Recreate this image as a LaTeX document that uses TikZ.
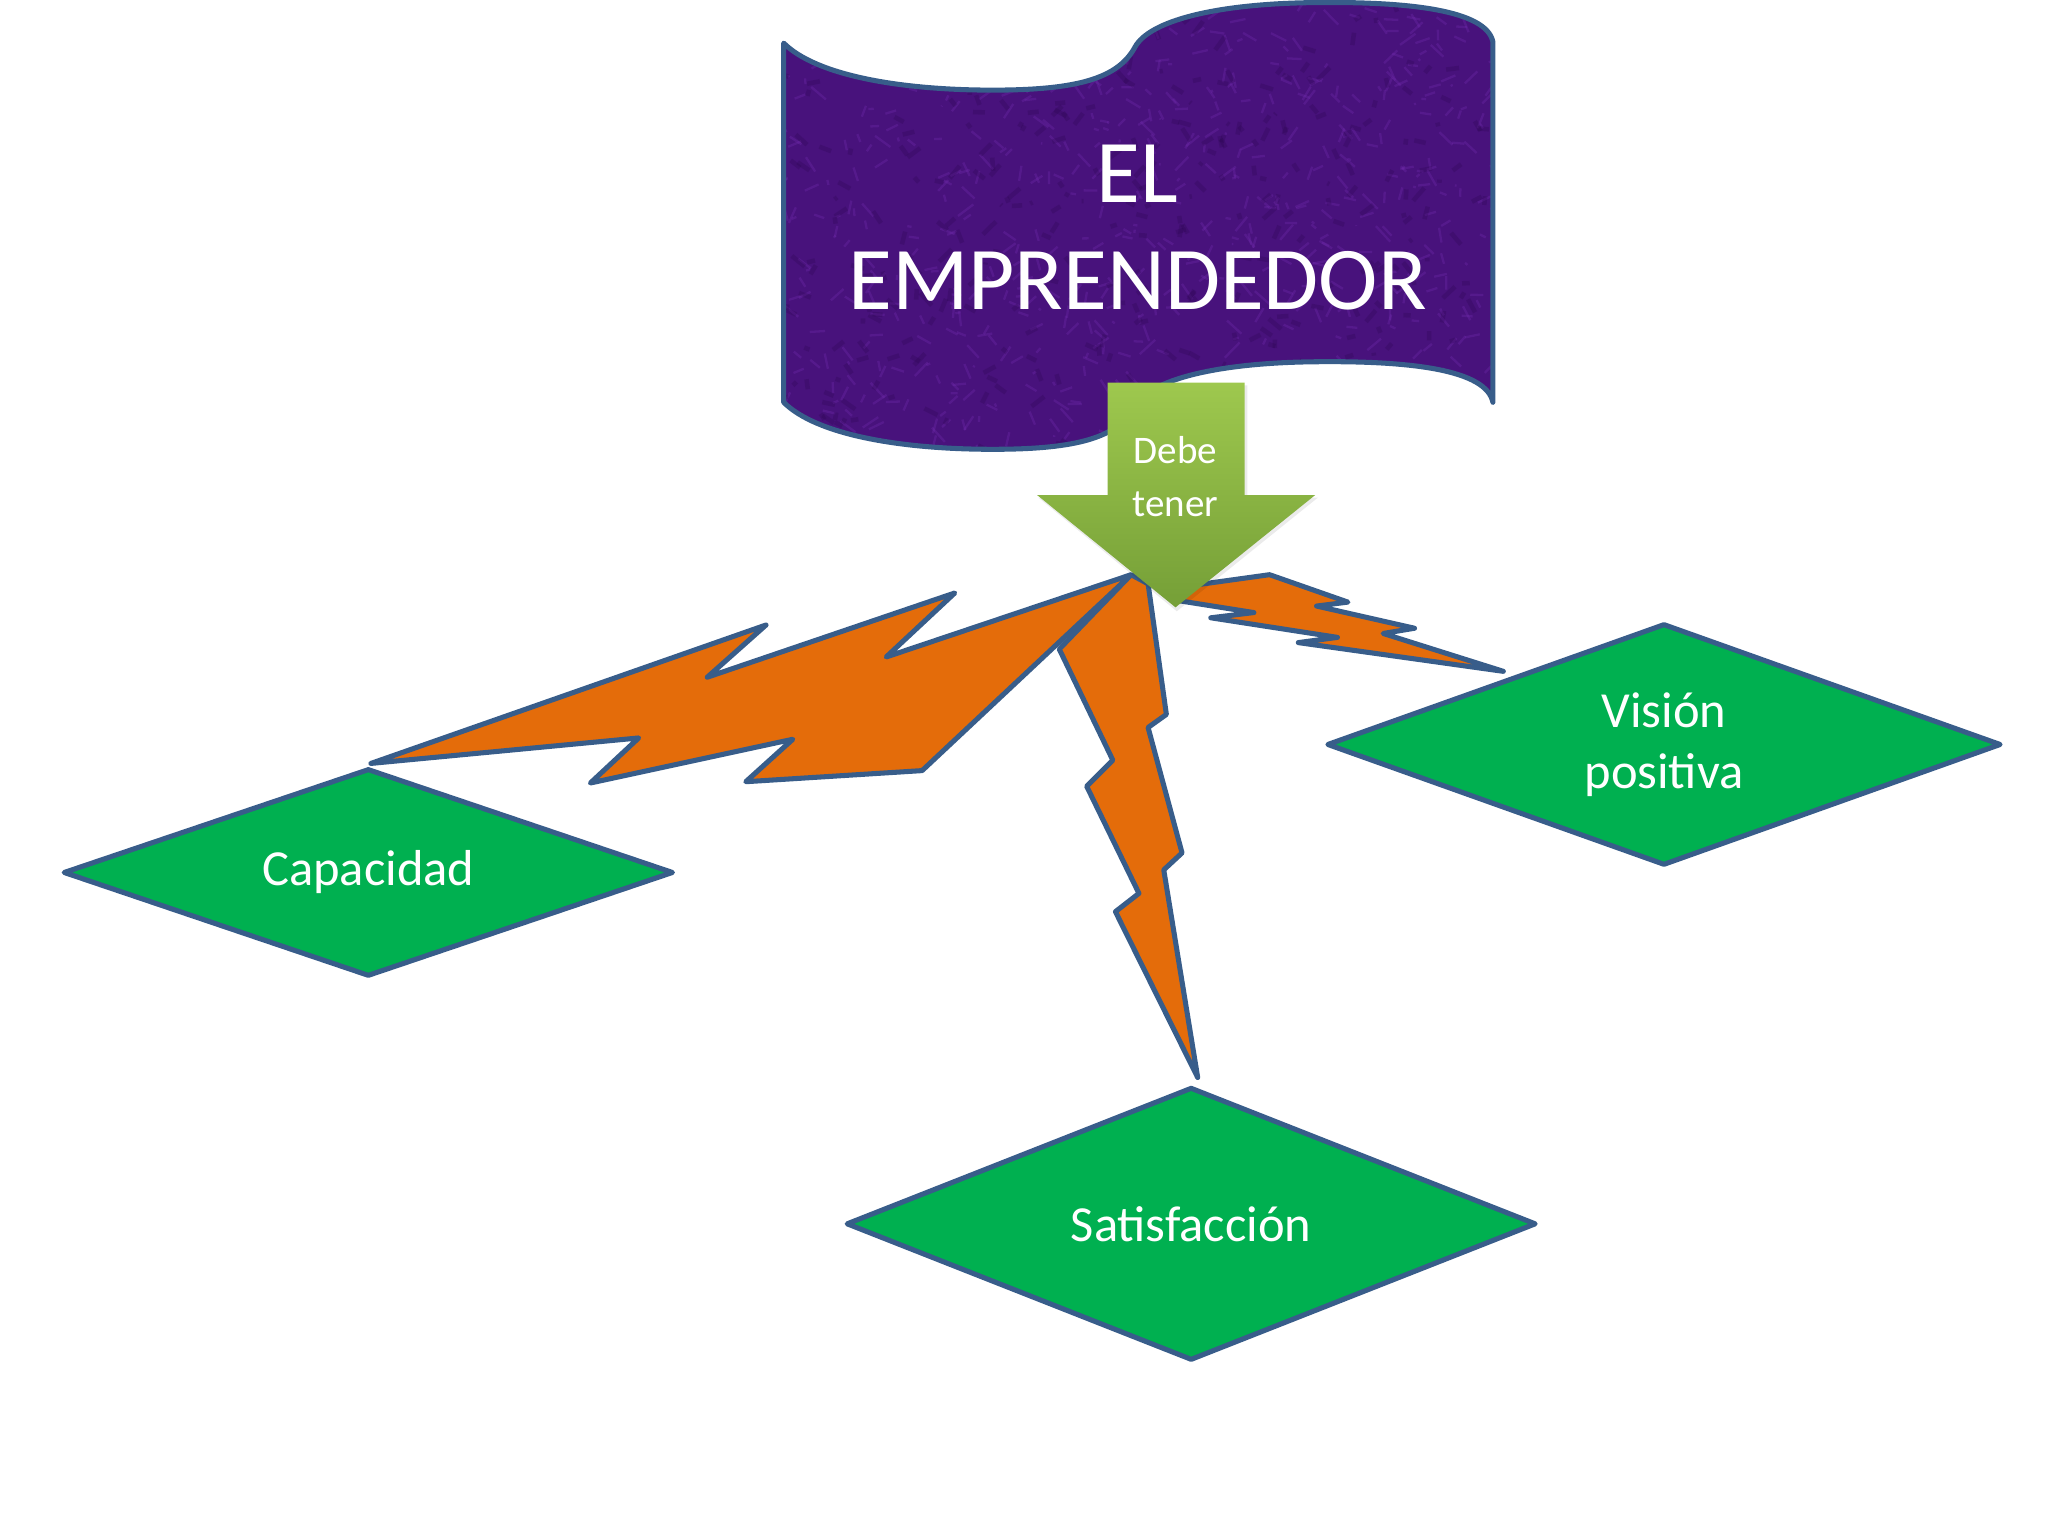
\documentclass[tikz,border=0pt]{standalone}
\usepackage{fontspec}
\setmainfont{Carlito}
\usetikzlibrary{shapes.geometric}
\definecolor{felt}{RGB}{72,18,124}
\definecolor{feltlight}{RGB}{118,46,178}
\definecolor{feltdark}{RGB}{42,6,78}
\definecolor{rim}{RGB}{56,93,138}
\definecolor{flash}{RGB}{228,108,10}
\definecolor{leaf}{RGB}{0,176,80}
\definecolor{limetop}{RGB}{158,200,78}
\definecolor{limebot}{RGB}{117,159,55}
\begin{document}
\begin{tikzpicture}[x=0.01cm,y=-0.01cm,
        rim line/.style={draw=rim,line width=1.1pt,line join=round},
        bolt/.style={rim line,fill=flash},
        trait/.style={diamond,rim line,fill=leaf,inner sep=0pt,text=white,
            align=center,font=\fontsize{11}{13.4}\selectfont}]
        \useasboundingbox (0,0) rectangle (1568,1176);
        \def\bannerpath{(600,33) .. controls (625,58) and (690,69) .. (760,69)
            .. controls (825,69) and (856,60) .. (869,36)
            .. controls (880,16) and (930,3) .. (1005,2)
            .. controls (1080,1) and (1138,8) .. (1143,32)
            -- (1143,308) .. controls (1138,283) and (1080,276) .. (1005,277)
            .. controls (930,278) and (880,291) .. (869,311)
            .. controls (856,335) and (825,344) .. (760,344)
            .. controls (690,344) and (625,333) .. (600,308) -- cycle}
        \fill[felt] \bannerpath;
        \begin{scope}
            \clip \bannerpath;
            \pgfmathsetseed{11}
            \foreach \k in {1,...,700}
                \draw[feltlight,opacity=0.3,line width=0.5pt] (590+rnd*560,rnd*350) -- ++(rnd*24-12,rnd*24-12);
            \foreach \k in {1,...,400}
                \draw[feltdark,opacity=0.25,line width=1pt] (590+rnd*560,rnd*350) -- ++(rnd*20-10,rnd*20-10);
        \end{scope}
        \draw[rim line] \bannerpath;
        \node[text=white,align=center,font=\fontsize{19.5}{23.3}\selectfont] (title) at (871,174) {EL\\EMPRENDEDOR};
        \node[trait,shape aspect=2.9,minimum width=4.67cm,minimum height=1.59cm] (cap) at (282,668) {Capacidad};
        \node[trait,shape aspect=2.5,minimum width=5.28cm,minimum height=2.09cm] (sat) at (912,937) {Satisfacción};
        \node[trait,shape aspect=2.8,minimum width=5.16cm,minimum height=1.85cm] (vis) at (1274,570) {Visión\\positiva};
        \coordinate (hub) at (866,440);
        \draw[bolt] (hub) -- (879,447) -- (893,547) -- (879,557) -- (905,653) -- (891,666) -- (917,825)
            -- (854,698) -- (872,684) -- (832,602) -- (852,582) -- (811,497) -- cycle;
        \draw[bolt] (hub) -- (706,590) -- (571,598.5) -- (607,566) -- (452,599.5) -- (489,565)
            -- (284,584.5) -- (586.5,478.5) -- (541.5,518.5) -- (731,454) -- (678.5,503) -- cycle;
        \draw[bolt] (900,450) -- (972,440) -- (1032,461) -- (1008,464) -- (1083,481) -- (1059,485)
            -- (1151,514) -- (994,492) -- (1024,488) -- (927,473) -- (960,469) -- (903,460) -- cycle;
        \fill[black,opacity=0.08] (849.5,295) -- (955,295) -- (955,381) -- (1009,381) -- (901,468) -- (795,381) -- (849.5,381) -- cycle;
        \shade[top color=limetop,bottom color=limebot] (848,293) -- (953,293) -- (953,379) -- (1007,379)
            -- (900,465) -- (794,379) -- (848,379) -- cycle;
        \node[text=white,align=center,font=\fontsize{8.5}{11.4}\selectfont] (must) at (900,365) {Debe\\tener};
\end{tikzpicture}
\end{document}
